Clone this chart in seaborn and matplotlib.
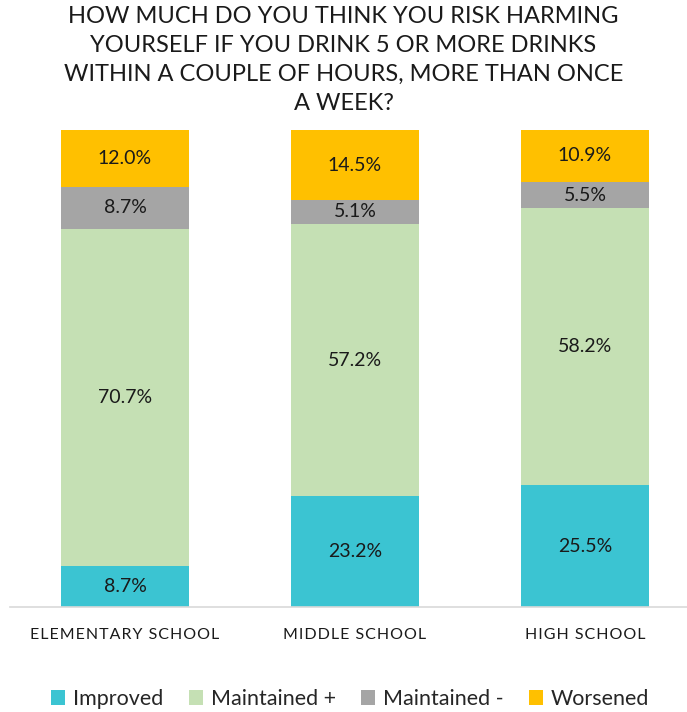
import matplotlib
matplotlib.use("Agg")
import matplotlib.pyplot as plt
import seaborn as sns
import numpy as np
from matplotlib.patches import Patch

schools = ["ELEMENTARY SCHOOL", "MIDDLE SCHOOL", "HIGH SCHOOL"]
improved = [8.7, 23.2, 25.5]
maintained_plus = [70.7, 57.2, 58.2]
maintained_minus = [8.7, 5.1, 5.5]
worsened = [12.0, 14.5, 10.9]

series_names = ["Improved", "Maintained +", "Maintained -", "Worsened"]
series_values = [improved, maintained_plus, maintained_minus, worsened]
colors = ["#3BC4D2", "#C5E0B4", "#A5A5A5", "#FFC000"]

sns.set_theme(style="white")
plt.rcParams["font.family"] = ["Lato", "DejaVu Sans"]

fig = plt.figure(figsize=(6.87, 7.12), dpi=100)
ax = fig.add_axes([10 / 687, 105 / 712, 690 / 687, 477 / 712])

bottom = np.zeros(len(schools))
for name, vals, col in zip(series_names, series_values, colors):
    vals = np.array(vals)
    sns.barplot(x=schools, y=vals, bottom=bottom, color=col, width=0.557,
                ax=ax, saturation=1, linewidth=0)
    for i, v in enumerate(vals):
        ax.text(i, bottom[i] + v / 2, f"{v:.1f}%", ha="center", va="center",
                fontsize=14, color="#1a1a1a")
    bottom = bottom + vals

ax.set_ylim(0, 100.1)
ax.set_xlim(-0.5, 2.5)
for s in ["top", "right", "left"]:
    ax.spines[s].set_visible(False)
ax.spines["bottom"].set_color("#d9d9d9")
ax.spines["bottom"].set_linewidth(1.2)
ax.set_yticks([])
ax.set_xticks(range(len(schools)))
spaced = ["\u200a".join(s) for s in schools]
ax.set_xticklabels(spaced, fontsize=11.5, color="#1a1a1a",
                   fontfamily=["Lato", "DejaVu Sans"])
ax.tick_params(axis="x", length=0, pad=15)

fig.text(0.5, 0.992,
         "HOW MUCH DO YOU THINK YOU RISK HARMING\nYOURSELF IF YOU DRINK 5 OR MORE DRINKS\nWITHIN A COUPLE OF HOURS, MORE THAN ONCE\nA WEEK?",
         ha="center", va="top", fontsize=17, linespacing=1.47, color="#1a1a1a")

handles = [Patch(facecolor=c, edgecolor="none") for c in colors]
fig.legend(handles, series_names, loc="center", bbox_to_anchor=(0.51, 1 - 699 / 712),
           ncol=4, frameon=False, fontsize=15.5, handlelength=0.65, handleheight=0.65,
           columnspacing=1.2, handletextpad=0.35)

fig.savefig("out.png", dpi=100)
